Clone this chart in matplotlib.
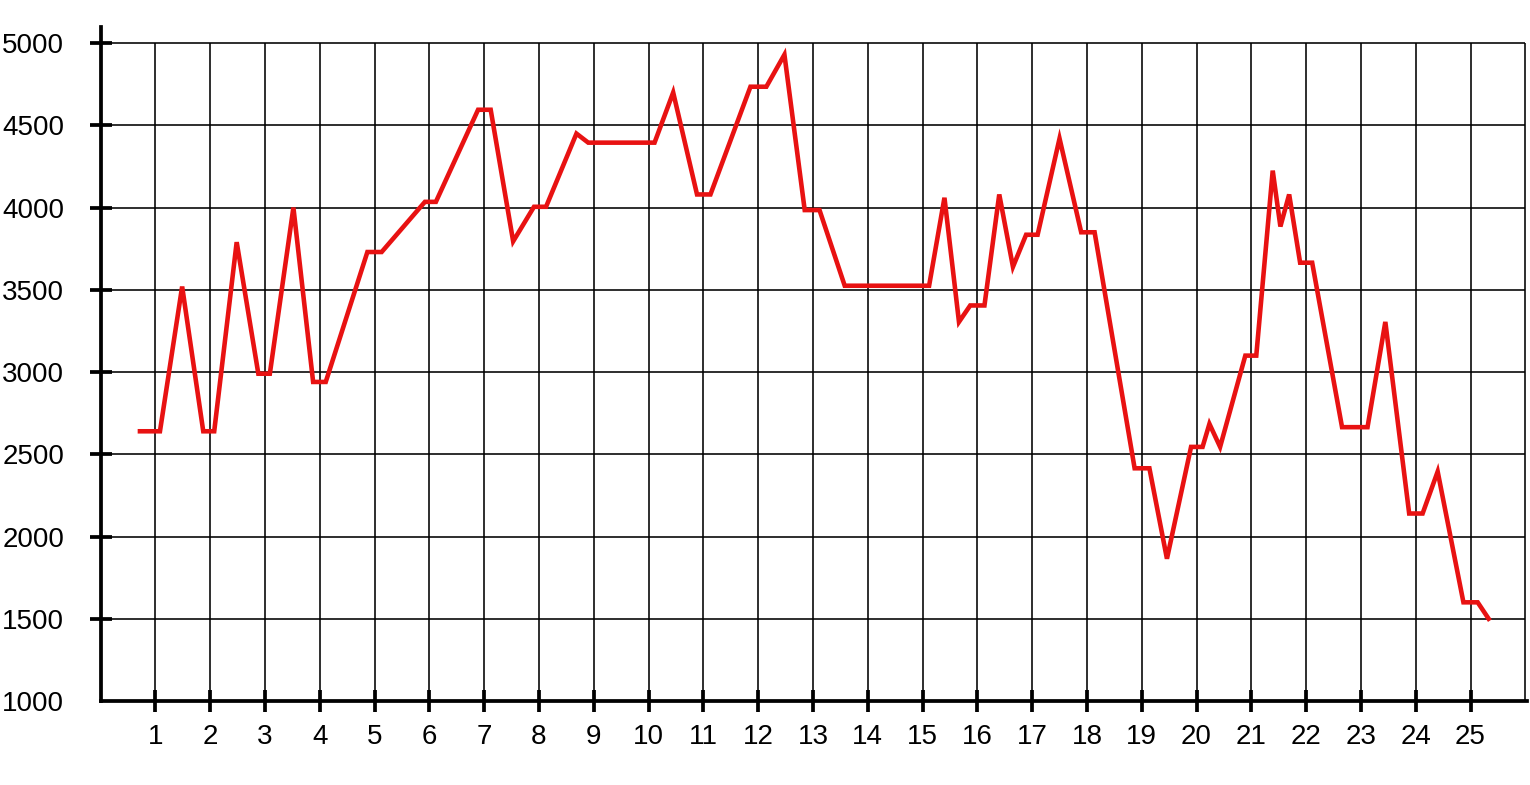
import matplotlib
matplotlib.use("Agg")
import matplotlib.pyplot as plt
import numpy as np

plt.rcParams["font.family"] = ["Liberation Sans", "DejaVu Sans"]

# vertices of the red line
xs = [0.72, 1.085, 1.49, 1.875, 2.075, 2.485, 2.88, 3.09, 3.52, 3.88, 4.11,
      4.87, 5.13, 5.92, 6.12, 6.89, 7.12, 7.53, 7.91, 8.13, 8.685, 8.90,
      10.11, 10.45, 10.885, 11.13, 11.86, 12.15, 12.48, 12.85, 13.12, 13.58,
      15.12, 15.40, 15.665, 15.87, 16.13, 16.40, 16.65, 16.89, 17.10, 17.50,
      17.895, 18.14, 18.87, 19.14, 19.46, 19.90, 20.11, 20.235, 20.43, 20.89,
      21.09, 21.39, 21.53, 21.69, 21.89, 22.11, 22.655, 23.12, 23.445, 23.88,
      24.125, 24.40, 24.87, 25.13, 25.33]
ys = [2640, 2640, 3520, 2640, 2640, 3790, 2990, 2990, 4000, 2940, 2940,
      3730, 3730, 4035, 4035, 4595, 4595, 3795, 4005, 4005, 4450, 4395,
      4395, 4700, 4080, 4080, 4735, 4735, 4930, 3985, 3985, 3525,
      3525, 4060, 3305, 3405, 3405, 4080, 3640, 3835, 3835, 4420,
      3850, 3850, 2415, 2415, 1865, 2545, 2545, 2685, 2545, 3100,
      3100, 4225, 3885, 4080, 3665, 3665, 2665, 2665, 3305, 2140,
      2140, 2395, 1600, 1600, 1500]

xticks = list(range(1, 26))
yticks = [1000, 1500, 2000, 2500, 3000, 3500, 4000, 4500, 5000]
x_grid = list(range(1, 27))

fig = plt.figure(figsize=(15.3, 7.85), dpi=100)
ax = fig.add_axes([100.5 / 1530, 84 / 785, (1527 - 100.5) / 1530, (701 - 26.7) / 785])

# grid only inside the 1000..5000 box
ax.vlines(x_grid, yticks[0], yticks[-1], colors="black", linewidth=1.15, zorder=1)
ax.hlines(yticks[1:], 0, x_grid[-1], colors="black", linewidth=1.15, zorder=1)

ax.plot(xs, ys, color="#e81212", linewidth=3.3, solid_joinstyle="miter", zorder=3)

ax.set_xlim(0, 26.03)
ax.set_ylim(1000, 5100)
ax.set_xticks(xticks)
ax.set_yticks(yticks)

for s in ("top", "right"):
    ax.spines[s].set_visible(False)
for s in ("left", "bottom"):
    ax.spines[s].set_linewidth(2.7)
    ax.spines[s].set_zorder(4)

ax.tick_params(axis="both", direction="inout", length=16.5, width=2.7,
               labelsize=20, colors="black")
ax.tick_params(axis="y", pad=18)
ax.tick_params(axis="x", pad=8.5)
ax.yaxis.get_major_ticks()[0].tick1line.set_visible(False)

fig.savefig("out.png", dpi=100)
